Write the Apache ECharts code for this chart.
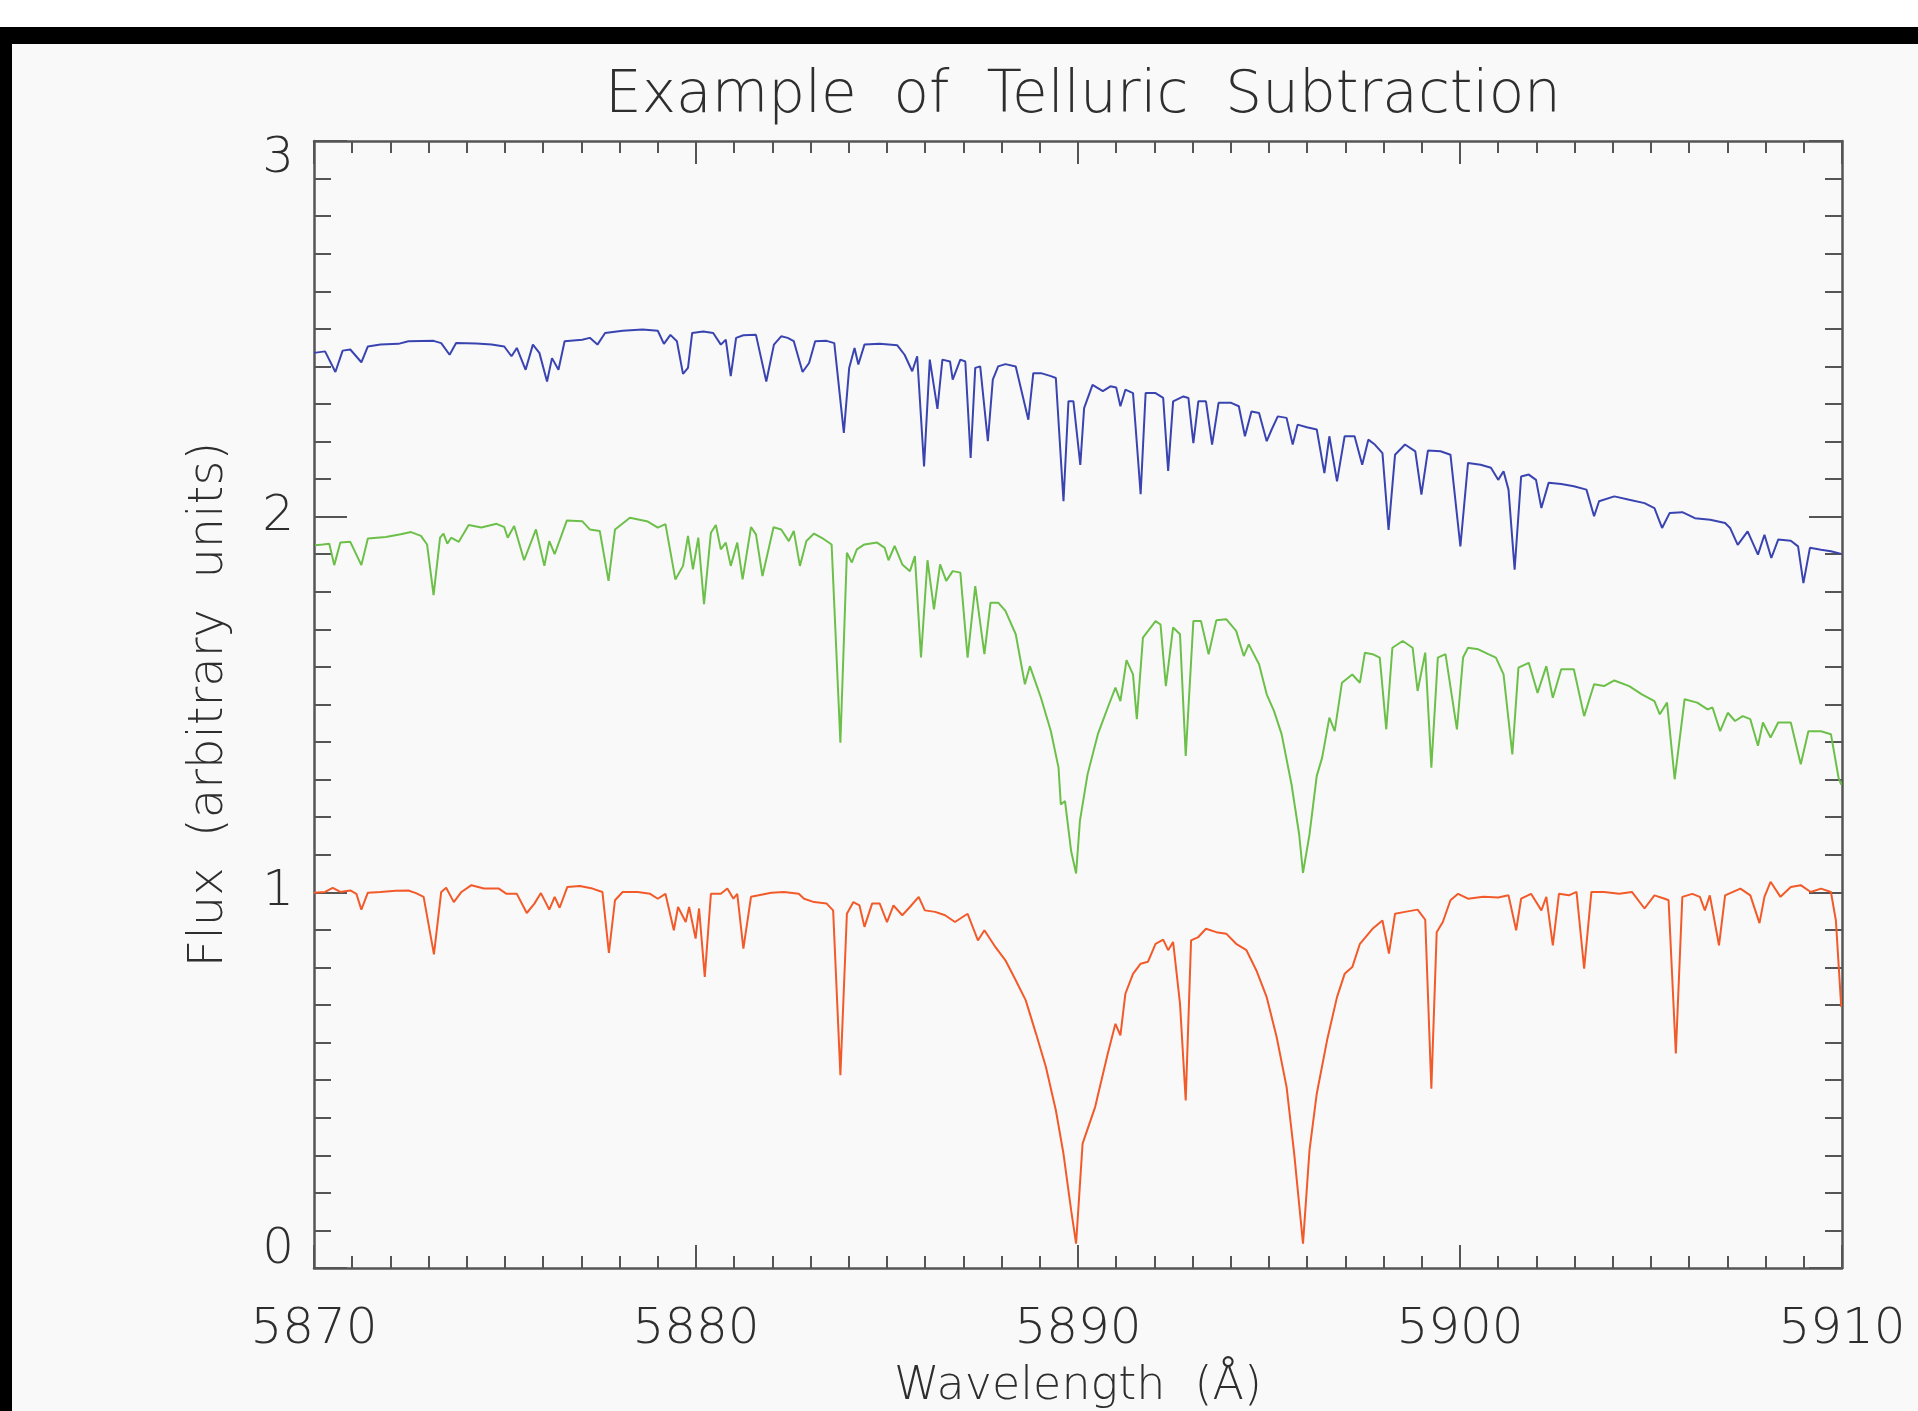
<!DOCTYPE html>
<html>
<head>
<meta charset="utf-8">
<title>Example of Telluric Subtraction</title>
<script src="https://cdn.jsdelivr.net/npm/echarts@6/dist/echarts.min.js"></script>
<style>
  html, body { margin: 0; padding: 0; background: #ffffff; }
  #frame { position: relative; width: 1918px; height: 1411px; overflow: hidden; }
  .bar { position: absolute; background: #000; }
  #inner { position: absolute; left: 12px; top: 44px; right: 0; bottom: 0; background: #f9f9f9; }
  #chart { position: absolute; left: 0; top: 0; width: 1918px; height: 1411px; }
</style>
</head>
<body>
<div id="frame">
  <div class="bar" style="left:0; top:27px; width:1918px; height:17px;"></div>
  <div class="bar" style="left:0; top:27px; width:12px; height:1384px;"></div>
  <div id="inner"></div>
  <div id="chart"></div>
</div>
<script>
// wavelength (Å) and flux, one pair of arrays per spectrum
const blueWave = [5870.00,5870.29,5870.56,5870.75,5870.95,5871.24,5871.41,5871.74,5872.21,5872.47,5873.13,5873.33,5873.55,5873.72,5874.25,5874.65,5874.98,5875.17,5875.31,5875.54,5875.73,5875.90,5876.10,5876.23,5876.40,5876.56,5877.02,5877.22,5877.42,5877.62,5878.08,5878.60,5879.00,5879.16,5879.33,5879.50,5879.66,5879.79,5879.90,5880.19,5880.45,5880.65,5880.78,5880.91,5881.05,5881.24,5881.57,5881.84,5882.04,5882.23,5882.40,5882.56,5882.79,5882.96,5883.12,5883.42,5883.62,5883.87,5884.01,5884.15,5884.25,5884.41,5884.81,5885.27,5885.46,5885.66,5885.79,5885.97,5886.12,5886.32,5886.45,5886.65,5886.72,5886.92,5887.05,5887.19,5887.31,5887.44,5887.64,5887.77,5887.91,5888.10,5888.37,5888.70,5888.83,5889.03,5889.29,5889.42,5889.62,5889.75,5889.88,5890.06,5890.16,5890.38,5890.65,5890.85,5891.00,5891.11,5891.24,5891.44,5891.51,5891.64,5891.77,5892.03,5892.23,5892.36,5892.49,5892.76,5892.89,5893.02,5893.15,5893.35,5893.51,5893.68,5894.01,5894.21,5894.37,5894.54,5894.74,5894.94,5895.07,5895.23,5895.46,5895.62,5895.75,5895.99,5896.25,5896.45,5896.58,5896.78,5896.98,5897.24,5897.44,5897.60,5897.77,5897.97,5898.13,5898.30,5898.56,5898.83,5898.99,5899.16,5899.49,5899.75,5900.01,5900.21,5900.54,5900.81,5901.00,5901.14,5901.27,5901.43,5901.60,5901.80,5901.99,5902.13,5902.32,5902.65,5902.98,5903.31,5903.51,5903.64,5904.04,5904.43,5904.83,5905.09,5905.29,5905.49,5905.82,5906.15,5906.55,5906.94,5907.07,5907.27,5907.53,5907.80,5907.97,5908.15,5908.33,5908.66,5908.85,5908.99,5909.16,5909.45,5909.71,5909.98];
const blueFlux = [2.436,2.440,2.385,2.442,2.445,2.411,2.453,2.458,2.460,2.467,2.468,2.462,2.431,2.462,2.461,2.458,2.453,2.427,2.449,2.391,2.458,2.436,2.360,2.422,2.391,2.467,2.471,2.476,2.458,2.489,2.495,2.498,2.495,2.460,2.484,2.467,2.380,2.396,2.489,2.493,2.489,2.458,2.471,2.374,2.476,2.483,2.484,2.360,2.458,2.480,2.476,2.467,2.385,2.409,2.467,2.468,2.462,2.223,2.396,2.449,2.405,2.458,2.460,2.456,2.431,2.387,2.427,2.134,2.418,2.287,2.418,2.413,2.365,2.418,2.413,2.156,2.396,2.400,2.201,2.365,2.400,2.406,2.400,2.258,2.382,2.382,2.374,2.369,2.041,2.307,2.307,2.138,2.289,2.351,2.334,2.347,2.344,2.294,2.338,2.329,2.236,2.060,2.329,2.329,2.316,2.122,2.307,2.320,2.316,2.196,2.307,2.307,2.192,2.303,2.303,2.294,2.214,2.280,2.276,2.201,2.232,2.267,2.263,2.192,2.245,2.238,2.232,2.116,2.214,2.094,2.214,2.214,2.138,2.205,2.192,2.169,1.965,2.165,2.192,2.174,2.059,2.176,2.174,2.165,1.921,2.143,2.138,2.130,2.098,2.121,2.072,1.859,2.107,2.112,2.098,2.023,2.090,2.087,2.081,2.072,2.001,2.041,2.054,2.045,2.036,2.023,1.970,2.010,2.012,1.996,1.992,1.983,1.970,1.925,1.961,1.899,1.952,1.890,1.939,1.936,1.921,1.823,1.917,1.912,1.908,1.901];

const greenWave = [5870.03,5870.23,5870.40,5870.53,5870.69,5870.95,5871.24,5871.41,5871.88,5872.27,5872.54,5872.80,5872.96,5873.13,5873.30,5873.39,5873.49,5873.59,5873.79,5874.05,5874.38,5874.78,5874.98,5875.07,5875.24,5875.50,5875.81,5876.03,5876.16,5876.30,5876.62,5877.02,5877.22,5877.48,5877.71,5877.88,5878.27,5878.74,5879.00,5879.20,5879.46,5879.66,5879.79,5879.92,5880.06,5880.21,5880.39,5880.52,5880.65,5880.78,5880.91,5881.08,5881.22,5881.44,5881.57,5881.74,5882.03,5882.23,5882.43,5882.56,5882.72,5882.89,5883.09,5883.35,5883.55,5883.78,5883.95,5884.08,5884.21,5884.41,5884.74,5884.94,5885.04,5885.20,5885.40,5885.60,5885.73,5885.89,5886.06,5886.23,5886.39,5886.55,5886.72,5886.92,5887.11,5887.31,5887.55,5887.71,5887.91,5888.10,5888.37,5888.61,5888.74,5889.03,5889.29,5889.49,5889.55,5889.66,5889.82,5889.95,5890.05,5890.25,5890.52,5890.78,5890.98,5891.11,5891.27,5891.44,5891.54,5891.70,5892.03,5892.16,5892.30,5892.49,5892.67,5892.82,5893.02,5893.22,5893.42,5893.62,5893.88,5894.14,5894.34,5894.47,5894.74,5894.94,5895.13,5895.33,5895.59,5895.79,5895.89,5896.06,5896.25,5896.39,5896.58,5896.72,5896.91,5897.18,5897.38,5897.51,5897.71,5897.90,5898.07,5898.23,5898.50,5898.76,5898.89,5899.09,5899.25,5899.42,5899.62,5899.92,5900.08,5900.21,5900.48,5900.74,5900.94,5901.14,5901.37,5901.53,5901.80,5902.03,5902.26,5902.43,5902.65,5902.98,5903.25,5903.51,5903.77,5904.04,5904.43,5904.76,5905.09,5905.23,5905.42,5905.62,5905.88,5906.21,5906.48,5906.61,5906.81,5907.01,5907.20,5907.40,5907.60,5907.80,5907.93,5908.13,5908.33,5908.66,5908.92,5909.12,5909.45,5909.71,5909.91,5909.98];
const greenFlux = [1.924,1.926,1.928,1.871,1.931,1.933,1.871,1.942,1.946,1.953,1.959,1.949,1.926,1.791,1.944,1.955,1.928,1.944,1.933,1.978,1.971,1.981,1.972,1.944,1.975,1.884,1.966,1.869,1.935,1.900,1.990,1.988,1.966,1.962,1.829,1.966,1.997,1.987,1.971,1.980,1.833,1.869,1.949,1.860,1.944,1.767,1.957,1.978,1.913,1.931,1.869,1.931,1.833,1.972,1.953,1.842,1.972,1.966,1.935,1.962,1.869,1.935,1.955,1.940,1.926,1.398,1.904,1.878,1.913,1.926,1.931,1.917,1.884,1.922,1.873,1.855,1.895,1.625,1.884,1.753,1.873,1.829,1.855,1.851,1.625,1.815,1.634,1.771,1.771,1.749,1.687,1.554,1.602,1.518,1.429,1.332,1.234,1.243,1.110,1.050,1.190,1.314,1.421,1.492,1.545,1.509,1.618,1.580,1.461,1.678,1.722,1.713,1.549,1.705,1.687,1.363,1.722,1.722,1.634,1.724,1.727,1.696,1.629,1.660,1.607,1.527,1.483,1.421,1.287,1.154,1.052,1.154,1.310,1.358,1.465,1.429,1.558,1.580,1.558,1.638,1.634,1.625,1.434,1.651,1.669,1.651,1.536,1.638,1.332,1.625,1.634,1.434,1.625,1.651,1.647,1.634,1.625,1.580,1.367,1.598,1.611,1.531,1.602,1.518,1.594,1.594,1.469,1.554,1.549,1.564,1.549,1.527,1.509,1.474,1.505,1.301,1.514,1.505,1.487,1.492,1.429,1.478,1.456,1.469,1.461,1.390,1.452,1.412,1.452,1.452,1.341,1.429,1.429,1.421,1.305,1.287];

const redWave = [5870.00,5870.29,5870.49,5870.69,5870.95,5871.11,5871.24,5871.41,5871.74,5872.14,5872.47,5872.67,5872.87,5873.14,5873.33,5873.46,5873.66,5873.86,5874.12,5874.45,5874.84,5875.04,5875.31,5875.57,5875.77,5875.94,5876.16,5876.30,5876.43,5876.63,5876.96,5877.29,5877.55,5877.72,5877.88,5878.08,5878.47,5878.80,5879.00,5879.20,5879.42,5879.53,5879.73,5879.82,5879.99,5880.08,5880.23,5880.39,5880.65,5880.82,5880.98,5881.08,5881.24,5881.44,5881.64,5881.97,5882.30,5882.69,5882.83,5883.09,5883.42,5883.59,5883.78,5883.95,5884.12,5884.28,5884.41,5884.61,5884.81,5885.00,5885.17,5885.40,5885.60,5885.83,5885.99,5886.26,5886.52,5886.78,5887.11,5887.38,5887.55,5887.84,5888.10,5888.37,5888.63,5888.90,5889.16,5889.42,5889.62,5889.82,5889.95,5890.12,5890.45,5890.78,5890.98,5891.11,5891.24,5891.44,5891.64,5891.83,5892.03,5892.23,5892.36,5892.49,5892.67,5892.82,5892.96,5893.15,5893.35,5893.62,5893.88,5894.14,5894.41,5894.67,5894.94,5895.20,5895.46,5895.66,5895.89,5896.06,5896.25,5896.52,5896.78,5896.98,5897.18,5897.38,5897.71,5897.97,5898.14,5898.30,5898.56,5898.89,5899.09,5899.25,5899.39,5899.55,5899.75,5899.95,5900.21,5900.61,5901.00,5901.27,5901.47,5901.60,5901.86,5902.13,5902.26,5902.43,5902.59,5902.85,5903.05,5903.25,5903.44,5903.77,5904.17,5904.50,5904.83,5905.09,5905.36,5905.46,5905.65,5905.82,5906.08,5906.28,5906.41,5906.54,5906.78,5906.94,5907.34,5907.60,5907.84,5907.97,5908.13,5908.39,5908.66,5908.92,5909.18,5909.45,5909.71,5909.84,5909.98];
const redFlux = [0.999,1.001,1.012,1.001,1.005,0.996,0.954,0.999,1.001,1.004,1.005,0.998,0.988,0.835,1.001,1.012,0.974,1.001,1.019,1.010,1.010,0.996,0.996,0.945,0.970,0.998,0.954,0.988,0.959,1.014,1.017,1.010,1.001,0.839,0.979,1.001,1.001,0.996,0.983,0.996,0.899,0.961,0.921,0.961,0.877,0.957,0.775,0.996,0.996,1.010,0.983,0.996,0.850,0.988,0.992,0.999,1.001,0.996,0.983,0.974,0.970,0.952,0.513,0.943,0.974,0.965,0.908,0.970,0.970,0.921,0.965,0.939,0.961,0.988,0.952,0.948,0.939,0.921,0.943,0.872,0.899,0.854,0.819,0.766,0.713,0.624,0.535,0.420,0.304,0.154,0.065,0.331,0.429,0.571,0.650,0.619,0.730,0.783,0.810,0.815,0.863,0.874,0.846,0.868,0.704,0.446,0.872,0.881,0.903,0.894,0.890,0.863,0.846,0.792,0.721,0.615,0.482,0.304,0.065,0.313,0.464,0.606,0.721,0.783,0.801,0.863,0.903,0.925,0.837,0.943,0.948,0.954,0.927,0.477,0.894,0.921,0.979,0.996,0.983,0.988,0.986,0.992,0.899,0.983,0.996,0.952,0.988,0.859,0.996,0.992,1.001,0.797,1.001,1.001,0.996,1.001,0.957,0.992,0.983,0.979,0.571,0.988,0.996,0.988,0.952,0.992,0.859,0.992,1.010,0.992,0.918,0.988,1.028,0.988,1.014,1.019,1.001,1.010,1.001,0.925,0.695];

const xTicks = { min: 5870, max: 5910, step: 10 };
const yTicks = { min: 0, max: 3, step: 1 };

const pairs = (xs, ys) => xs.map((x, i) => [x, ys[i]]);

const font = 'DejaVu Sans';
const textColor = '#2e2e2e';
const axisColor = '#555555';
const plain = v => String(v);

const chart = echarts.init(document.getElementById('chart'));

// IDL style box: ticks point inward on all four sides
const boxAxis = (extra, tickLen, minorLen) => Object.assign({
  type: 'value',
  splitLine: { show: false },
  axisLine: { show: true, onZero: false, lineStyle: { color: axisColor, width: 2.5 } },
  axisTick: { show: true, inside: true, length: tickLen, lineStyle: { color: axisColor, width: 2 } },
  minorTick: { show: true, splitNumber: 10, length: minorLen, lineStyle: { color: axisColor, width: 2 } },
  minorSplitLine: { show: false }
}, extra);

const option = {
  animation: false,
  title: {
    text: 'Example  of  Telluric  Subtraction',
    left: 1078,
    textAlign: 'center',
    top: 63,
    textStyle: { fontFamily: font, fontWeight: 200, fontSize: 58, color: textColor }
  },
  // fixed box, labels are allowed to sit near the page edge
  grid: { left: 314, right: 76, top: 141, bottom: 143, containLabel: false, outerBoundsMode: 'none' },
  xAxis: [
    boxAxis({
      position: 'bottom',
      min: xTicks.min, max: xTicks.max, interval: xTicks.step,
      name: 'Wavelength  (Å)',
      nameLocation: 'middle',
      nameGap: 96,
      nameTextStyle: { fontFamily: font, fontWeight: 200, fontSize: 46, color: textColor },
      axisLabel: { margin: 37, formatter: plain, fontFamily: font, fontWeight: 200, fontSize: 50, color: textColor }
    }, 23, 12),
    boxAxis({
      position: 'top',
      min: xTicks.min, max: xTicks.max, interval: xTicks.step,
      axisLabel: { show: false }
    }, 23, 12)
  ],
  yAxis: [
    boxAxis({
      position: 'left',
      min: yTicks.min, max: yTicks.max, interval: yTicks.step,
      name: 'Flux  (arbitrary  units)',
      nameLocation: 'middle',
      nameGap: 80,
      nameRotate: 90,
      nameTextStyle: { fontFamily: font, fontWeight: 200, fontSize: 48, color: textColor },
      axisLabel: {
        margin: 20, formatter: plain, fontFamily: font, fontWeight: 200, fontSize: 50, lineHeight: 36,
        color: textColor, verticalAlignMinLabel: 'bottom', verticalAlignMaxLabel: 'top'
      }
    }, 33, 17),
    boxAxis({
      position: 'right',
      min: yTicks.min, max: yTicks.max, interval: yTicks.step,
      axisLabel: { show: false }
    }, 33, 17)
  ],
  series: [
    { name: 'observed', type: 'line', data: pairs(blueWave, blueFlux), symbol: 'none',
      lineStyle: { color: '#3a44b0', width: 2 }, z: 3 },
    { name: 'telluric removed', type: 'line', data: pairs(greenWave, greenFlux), symbol: 'none',
      lineStyle: { color: '#6cc04a', width: 2 }, z: 3 },
    { name: 'normalized', type: 'line', data: pairs(redWave, redFlux), symbol: 'none',
      lineStyle: { color: '#f25a2a', width: 2 }, z: 3 }
  ]
};

chart.setOption(option);
</script>
</body>
</html>
